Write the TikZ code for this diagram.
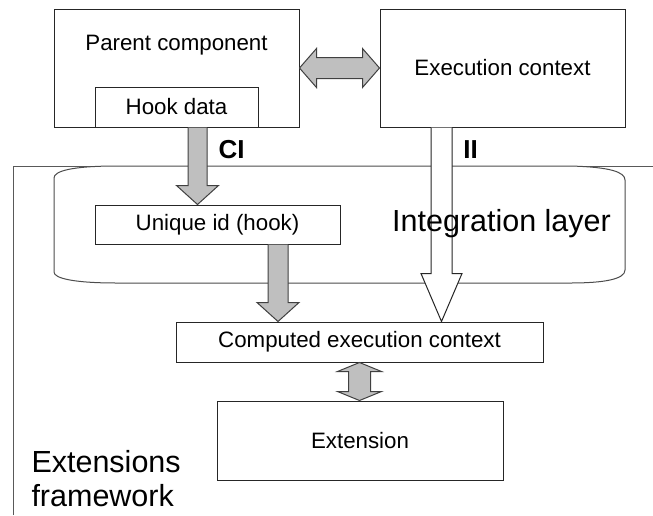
\documentclass[tikz,border=0pt]{standalone}
\usepackage{fontspec}
\setmainfont{Liberation Sans}
\usetikzlibrary{calc}

\def\boxfont{\fontsize{22.3pt}{26pt}\selectfont}
\def\bigfont{\fontsize{30.5pt}{34pt}\selectfont}

\begin{document}
\begin{tikzpicture}[x=1pt,y=1pt,line width=1pt]
    \tikzstyle{block}=[rectangle,draw=black!85,fill=white,inner sep=0pt,font=\boxfont]
    \tikzstyle{fat arrow}=[draw=black!75,fill=black!25]
    \tikzstyle{hollow arrow}=[draw=black!85,fill=white]
    \tikzstyle{big label}=[inner sep=0pt,font=\bigfont]
    \tikzstyle{link label}=[inner sep=0pt,font=\fontsize{26pt}{30pt}\selectfont\bfseries]
    \useasboundingbox (0,0) rectangle (653,-515);

    % Extensions framework
    \draw[black!65] (13,-515) -- (13,-166) -- (653,-166);

    % Integration layer
    \draw[black!70,fill=white] (117,-166) -- (570,-166)
        .. controls (610,-167) and (625,-172) .. (625,-180) -- (625,-270)
        .. controls (625,-279) and (605,-283) .. (570,-283) -- (117,-283)
        .. controls (72,-283) and (54,-278) .. (54,-272) -- (54,-178)
        .. controls (54,-171) and (72,-166) .. (117,-166) -- cycle;

    \path
    % Components
    (176.5,-68)    node[block,minimum width=245pt,minimum height=118pt,
                        label={[anchor=base,yshift=-42pt,font=\boxfont]north:Parent component}] (parent) {}
    (176.5,-107)   node[block,minimum width=163pt,minimum height=40pt] (hook) {Hook data}
    (502.5,-68)    node[block,minimum width=245pt,minimum height=118pt] (context) {Execution context}

    % Inside the framework
    (217.5,-224.5) node[block,minimum width=245pt,minimum height=39pt] (unique) {Unique id (hook)}
    (359.5,-342)   node[block,minimum width=367pt,minimum height=40pt] (computed) {Computed execution context}
    (360,-440.5)   node[block,minimum width=286pt,minimum height=79pt] (extension) {Extension};

    % Arrow tips
    \coordinate (ci tip) at ($(unique.north)+(-20,0)$);
    \coordinate (id tip) at ($(computed.north)+(-81.5,0)$);
    \coordinate (ii tip) at ($(computed.north)+(82,0)$);

    % Link the different parts
    \draw[hollow arrow] ($(context.south -| ii tip)+(-10.5,0)$) -- ($(ii tip)+(-10.5,48)$)
        -- ($(ii tip)+(-20.5,48)$) -- (ii tip) -- ($(ii tip)+(20.5,48)$)
        -- ($(ii tip)+(10.5,48)$) -- ($(context.south -| ii tip)+(10.5,0)$);
    \draw[fat arrow] ($(hook.south -| ci tip)+(-9.5,0)$) -- ($(ci tip)+(-9.5,19)$)
        -- ($(ci tip)+(-21,19)$) -- (ci tip) -- ($(ci tip)+(21,19)$)
        -- ($(ci tip)+(9.5,19)$) -- ($(hook.south -| ci tip)+(9.5,0)$);
    \draw[fat arrow] ($(unique.south -| id tip)+(-10,0)$) -- ($(id tip)+(-10,19)$)
        -- ($(id tip)+(-21,19)$) -- (id tip) -- ($(id tip)+(21,19)$)
        -- ($(id tip)+(10,19)$) -- ($(unique.south -| id tip)+(10,0)$);
    \draw[fat arrow] (parent.east) -- ($(parent.east)+(17,19.5)$) -- ($(parent.east)+(17,10.5)$)
        -- ($(context.west)+(-17,10.5)$) -- ($(context.west)+(-17,19.5)$) -- (context.west)
        -- ($(context.west)+(-17,-19.5)$) -- ($(context.west)+(-17,-10.5)$)
        -- ($(parent.east)+(17,-10.5)$) -- ($(parent.east)+(17,-19.5)$) -- cycle;
    \draw[fat arrow] (computed.south) -- ($(computed.south)+(22,-9)$) -- ($(computed.south)+(11,-9)$)
        -- ($(extension.north -| computed.south)+(11,9)$) -- ($(extension.north -| computed.south)+(22,9)$)
        -- (extension.north -| computed.south)
        -- ($(extension.north -| computed.south)+(-22,9)$) -- ($(extension.north -| computed.south)+(-11,9)$)
        -- ($(computed.south)+(-11,-9)$) -- ($(computed.south)+(-22,-9)$) -- cycle;

    % Labels
    \path
    (231.5,-158) node[link label,anchor=base] (ci) {CI}
    (470.5,-158) node[link label,anchor=base] (ii) {II}
    (501.5,-231) node[big label,anchor=base] (integration) {Integration layer}
    (31,-507)    node[big label,anchor=south west,align=left] (framework) {Extensions\\framework};
\end{tikzpicture}
\end{document}
